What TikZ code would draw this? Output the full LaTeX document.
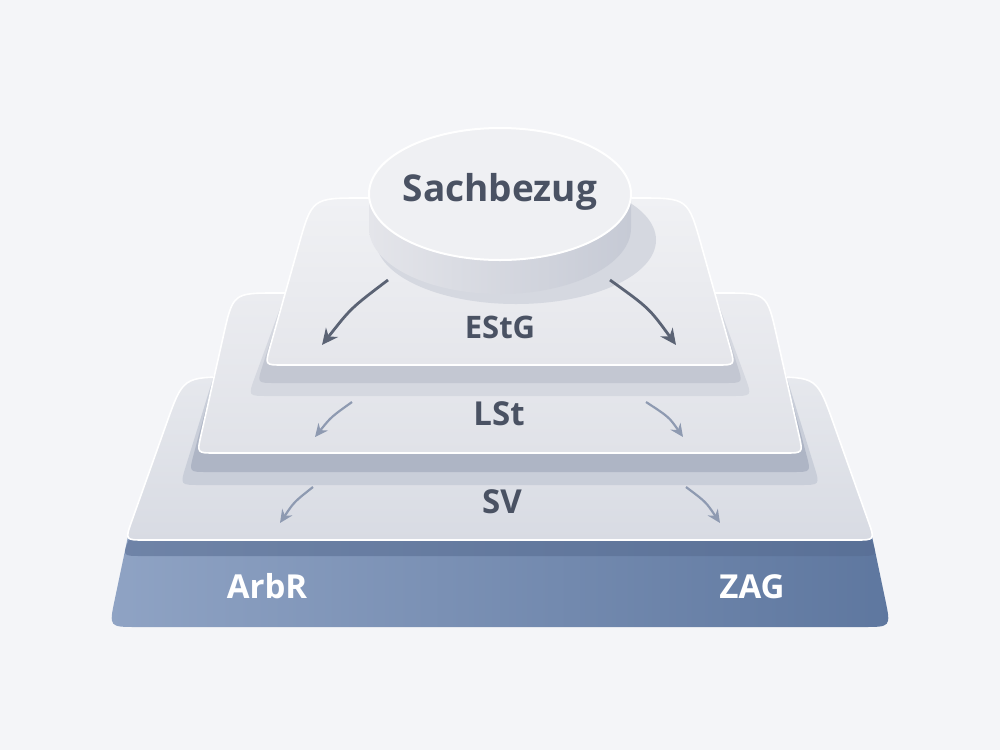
\documentclass[tikz,border=0pt]{standalone}
\usepackage{fontspec}
\setmainfont{Open Sans}
\usetikzlibrary{calc,arrows.meta}
\definecolor{bg}{HTML}{F4F5F8}
\definecolor{txtdark}{HTML}{4A5263}
\definecolor{arrdark}{HTML}{5B6374}
\definecolor{arrlight}{HTML}{8E9AB1}
\definecolor{topA1}{HTML}{F0F1F4}
\definecolor{topA2}{HTML}{E5E6EB}
\definecolor{topB1}{HTML}{EBECF0}
\definecolor{topB2}{HTML}{E0E2E8}
\definecolor{topC1}{HTML}{E6E8ED}
\definecolor{topC2}{HTML}{D8DBE3}
\definecolor{sideA}{HTML}{C3C7D2}
\definecolor{haloA}{HTML}{D5D8E0}
\definecolor{sideB}{HTML}{AEB5C5}
\definecolor{haloB}{HTML}{C9CED9}
\definecolor{sideC}{HTML}{566B90}
\definecolor{baseL}{HTML}{8FA3C4}
\definecolor{baseR}{HTML}{5E779F}
\definecolor{discTop}{HTML}{EFF0F3}
\definecolor{discSideL}{HTML}{E4E5EA}
\definecolor{discSideR}{HTML}{C6CAD5}
\definecolor{discShadow}{HTML}{D5D8E0}
% #1 style, #2 topY, #3 botY, #4 topL, #5 topR, #6 botL, #7 botR, #8 top radius, #9 bottom radius
\newcommand\slab[9]{%
\path[#1] ($(#4,#2)!#8!(#5,#2)$) -- ($(#5,#2)!#8!(#4,#2)$) .. controls (#5,#2) .. ($(#5,#2)!#8!(#7,#3)$)
 -- ($(#7,#3)!#9!(#5,#2)$) .. controls (#7,#3) .. ($(#7,#3)!#9!(#6,#3)$)
 -- ($(#6,#3)!#9!(#7,#3)$) .. controls (#6,#3) .. ($(#6,#3)!#9!(#4,#2)$)
 -- ($(#4,#2)!#8!(#6,#3)$) .. controls (#4,#2) .. ($(#4,#2)!#8!(#5,#2)$) -- cycle;}
\tikzset{
  lbl/.style={text=txtdark, font=\bfseries\fontsize{16.5pt}{18pt}\selectfont, anchor=base, inner sep=0pt},
  lblw/.style={text=white, font=\bfseries\fontsize{16.5pt}{18pt}\selectfont, anchor=base, inner sep=0pt},
  arrE/.style={draw=arrdark, line width=1.4pt, -{Stealth[length=8pt,width=7.5pt]}},
  arrL/.style={draw=arrlight, line width=1.1pt, -{Stealth[length=6.5pt,width=6pt]}},
}
\begin{document}
\begin{tikzpicture}[x=0.5pt,y=-0.5pt]
\useasboundingbox (0,0) rectangle (1000,750);
\fill[bg] (0,0) rectangle (1000,750);
% base slab
\slab{left color=baseL, right color=baseR}{522}{627}{131}{869}{109}{891}{4pt}{14pt}
% SV slab
\slab{fill=sideC, opacity=0.55}{430}{556}{175}{825}{122}{878}{20pt}{10pt}
\slab{top color=topC1, bottom color=topC2, draw=white, line width=0.8pt}{377}{540}{183}{817}{125}{875}{25pt}{10pt}
% LSt slab
\slab{fill=haloB}{330}{485}{228}{772}{180}{820}{20pt}{10pt}
\slab{fill=sideB}{318}{472}{230}{770}{189}{811}{20pt}{9pt}
\slab{top color=topB1, bottom color=topB2, draw=white, line width=0.8pt}{293}{453}{233}{767}{197}{803}{22pt}{9pt}
% EStG slab
\slab{fill=haloA}{240}{396}{305}{695}{248}{752}{20pt}{10pt}
\slab{fill=sideA}{225}{383}{308}{692}{257}{743}{20pt}{9pt}
\slab{top color=topA1, bottom color=topA2, draw=white, line width=0.8pt}{198}{365}{312}{688}{265}{735}{25pt}{9pt}
% disc
\fill[discShadow] (516,240) ellipse [x radius=140, y radius=64];
\path[left color=discSideL, right color=discSideR] (369,194) -- (631,194) -- (631,228) arc[start angle=0, end angle=-180, x radius=131, y radius=-66] -- cycle;
\fill[discTop, draw=white, line width=1pt] (500,194) ellipse [x radius=131, y radius=66];
% labels
\node[lbl, font=\bfseries\fontsize{18.5pt}{20pt}\selectfont] (sach) at (500,201) {Sachbezug};
\node[lbl, font=\bfseries\fontsize{15.5pt}{18pt}\selectfont] (estg) at (500,338) {EStG};
\node[lbl] (lst) at (499,425) {LSt};
\node[lbl] (sv) at (502,513) {SV};
\node[lblw] (arbr) at (267,598) {ArbR};
\node[lblw] (zag) at (752,598) {ZAG};
% arrows
\coordinate (e1s) at (388,280); \coordinate (e1e) at (322,345);
\coordinate (e2s) at (610,280); \coordinate (e2e) at (676,345);
\coordinate (l1s) at (352,402); \coordinate (l1e) at (315,437);
\coordinate (l2s) at (646,402); \coordinate (l2e) at (683,437);
\coordinate (s1s) at (313,487); \coordinate (s1e) at (280,523);
\coordinate (s2s) at (686,487); \coordinate (s2e) at (720,523);
\draw[arrE] (e1s) .. controls (351,308) .. (e1e);
\draw[arrE] (e2s) .. controls (649,308) .. (e2e);
\draw[arrL] (l1s) .. controls (331,417) .. (l1e);
\draw[arrL] (l2s) .. controls (669,417) .. (l2e);
\draw[arrL] (s1s) .. controls (294,502) .. (s1e);
\draw[arrL] (s2s) .. controls (706,502) .. (s2e);
\end{tikzpicture}
\end{document}
